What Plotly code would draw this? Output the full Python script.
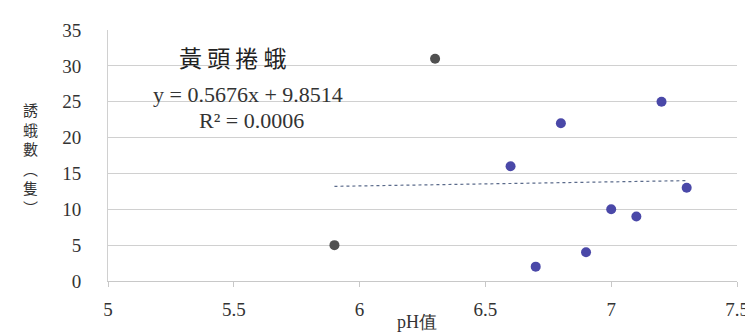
import plotly.graph_objects as go

# data
gray_ph = [6.3, 5.9]
gray_cnt = [31, 5]
blue_ph = [6.6, 6.8, 7.2, 7.3, 7.0, 7.1, 6.9, 6.7]
blue_cnt = [16, 22, 25, 13, 10, 9, 4, 2]
slope = 0.5676
intercept = 9.8514
trend_x = [5.9, 7.3]
trend_y = [slope * v + intercept for v in trend_x]
x_ticks = [5, 5.5, 6, 6.5, 7, 7.5]
y_ticks = [0, 5, 10, 15, 20, 25, 30, 35]

serif = "Liberation Serif"
cjk = "Noto Sans CJK TC"

fig = go.Figure()
fig.add_trace(go.Scatter(x=trend_x, y=trend_y, mode="lines",
                         line=dict(color="#5a6a8a", width=1.2, dash="dot"),
                         hoverinfo="skip", showlegend=False))
fig.add_trace(go.Scatter(x=gray_ph, y=gray_cnt, mode="markers",
                         marker=dict(color="#505050", size=10), showlegend=False))
fig.add_trace(go.Scatter(x=blue_ph, y=blue_cnt, mode="markers",
                         marker=dict(color="#4a48a8", size=10), showlegend=False))

fig.update_layout(
    width=753, height=336,
    margin=dict(l=100, r=17, t=21, b=63),
    paper_bgcolor="white", plot_bgcolor="white",
    font=dict(family=serif, color="#333333", size=16),
    xaxis=dict(range=[5, 7.5], tickvals=x_ticks, ticktext=[str(v) for v in x_ticks],
               showgrid=False, zeroline=False, showline=True, linecolor="#c8c8c8",
               ticks="outside", ticklen=5, tickcolor="#c8c8c8", ticklabelstandoff=6,
               tickfont=dict(size=19, family=serif, color="#333333")),
    yaxis=dict(range=[0, 35], tickvals=y_ticks, showgrid=True, gridcolor="#d0d0d0",
               zeroline=False, showline=True, linecolor="#d0d0d0",
               ticks="", ticklabelstandoff=22,
               tickfont=dict(size=19, family=serif, color="#333333")),
    annotations=[
        dict(text="黃 頭 捲 蛾", x=226, y=48, showarrow=False,
             font=dict(size=23, family=cjk, color="#222222")),
        dict(text="y = 0.5676x + 9.8514", x=242, y=86, showarrow=False,
             font=dict(size=22, family=serif, color="#333333")),
        dict(text="R² = 0.0006", x=245, y=112, showarrow=False,
             font=dict(size=22, family=serif, color="#333333")),
        dict(text="誘<br>蛾<br>數<br>︵<br>隻<br>︶", x=22, y=150, showarrow=False,
             font=dict(size=15, family=cjk, color="#333333")),
        dict(text="pH值", x=412, y=314, showarrow=False,
             font=dict(size=18, family=serif, color="#333333")),
    ],
)
# convert pixel positions of annotations to paper coords
W, H = 753, 336
l, r, t, b = 100, 17, 21, 63
pw, ph = W - l - r, H - t - b
new_ann = []
for a in fig.layout.annotations:
    a = a.to_plotly_json()
    a["xref"] = "paper"; a["yref"] = "paper"
    a["x"] = (a["x"] - l) / pw
    a["y"] = 1 - (a["y"] - t) / ph
    a["xanchor"] = "center"; a["yanchor"] = "middle"
    new_ann.append(a)
fig.layout.annotations = new_ann

fig.write_html("out.html")
